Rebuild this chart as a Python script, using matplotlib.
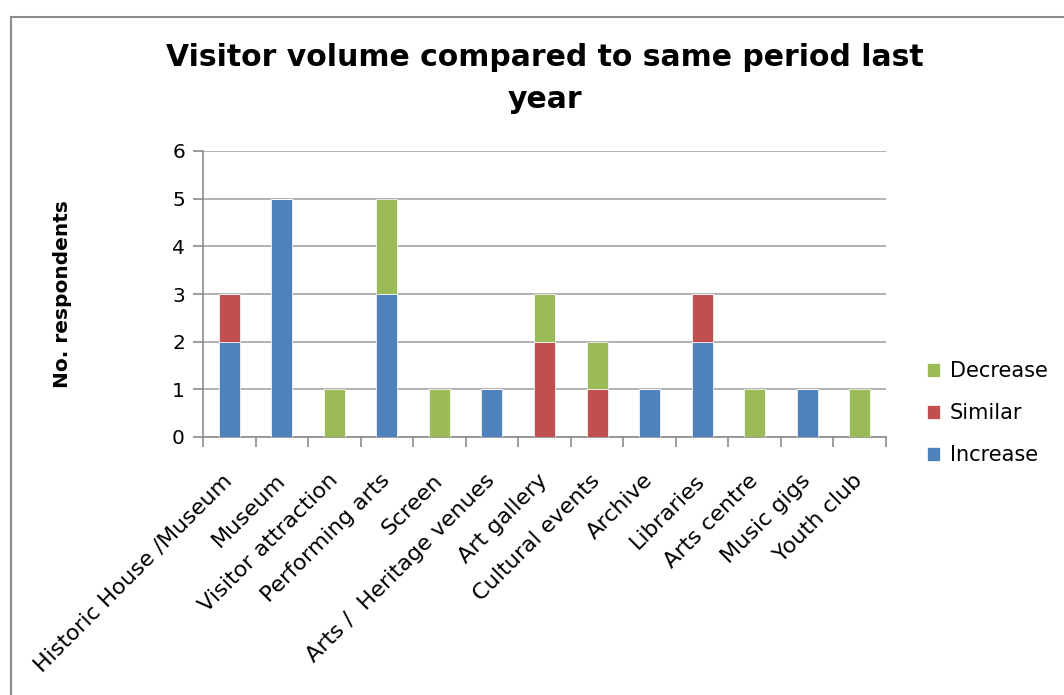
import matplotlib
matplotlib.use("Agg")
import matplotlib.pyplot as plt
import numpy as np
from matplotlib.lines import Line2D

categories = ["Historic House /Museum", "Museum", "Visitor attraction", "Performing arts",
              "Screen", "Arts /  Heritage venues", "Art gallery", "Cultural events",
              "Archive", "Libraries", "Arts centre", "Music gigs", "Youth club"]
increase = [2, 5, 0, 3, 0, 1, 0, 0, 1, 2, 0, 1, 0]
similar = [1, 0, 0, 0, 0, 0, 2, 1, 0, 1, 0, 0, 0]
decrease = [0, 0, 1, 2, 1, 0, 1, 1, 0, 0, 1, 0, 1]

c_inc, c_sim, c_dec = "#4F81BD", "#C0504D", "#9BBB59"

plt.rcParams['font.family'] = ['DejaVu Sans']
fig = plt.figure(figsize=(10.64, 6.95), dpi=100)
ax = fig.add_axes([203/1064, 1-437/695, 683/1064, 286/695])

x = np.arange(len(categories))
inc = np.array(increase); sim = np.array(similar); dec = np.array(decrease)
w = 0.4
ax.bar(x, inc, w, color=c_inc, label="Increase", zorder=3, edgecolor="white", linewidth=0.5)
ax.bar(x, sim, w, bottom=inc, color=c_sim, label="Similar", zorder=3, edgecolor="white", linewidth=0.5)
ax.bar(x, dec, w, bottom=inc+sim, color=c_dec, label="Decrease", zorder=3, edgecolor="white", linewidth=0.5)

ax.set_xlim(-0.5, len(categories)-0.5)
ax.set_ylim(0, 6)
ax.set_yticks(range(0, 7))
ax.yaxis.grid(True, color="#a6a6a6", linewidth=1.2, zorder=0)
ax.set_axisbelow(True)
for s in ["top", "right"]:
    ax.spines[s].set_visible(False)
ax.spines["left"].set_color("#8c8c8c")
ax.spines["bottom"].set_color("#8c8c8c")
ax.spines["left"].set_linewidth(1.2)
ax.spines["bottom"].set_linewidth(1.2)
ax.tick_params(axis="y", length=7, color="#8c8c8c", width=1.2, labelsize=14.5, pad=6)
ax.set_xticks(x)
ax.set_xticklabels(categories, rotation=45, ha="right", va="center", rotation_mode="anchor", fontsize=16)
ax.tick_params(axis="x", length=0, pad=29)
ax.set_xticks(np.arange(len(categories)+1)-0.5, minor=True)
ax.tick_params(axis="x", which="minor", length=7, color="#8c8c8c", width=1.2)

fig.text(62/1064, 1-294/695, "No. respondents", rotation=90, ha="center", va="center",
         fontsize=14.5, fontweight="bold")

fig.text(545/1064, 1-58/695, "Visitor volume compared to same period last", ha="center", va="center",
         fontsize=21.5, fontweight="bold")
fig.text(545/1064, 1-100/695, "year", ha="center", va="center", fontsize=21.5, fontweight="bold")

h, l = ax.get_legend_handles_labels()
leg = fig.legend(h[::-1], l[::-1], loc="center left", bbox_to_anchor=(908/1064, 1-413/695),
                 frameon=False, fontsize=15, handlelength=0.65, handleheight=0.65,
                 labelspacing=1.05, handletextpad=0.45)

# chart border (left and top visible)
fig.add_artist(Line2D([11/1064, 11/1064], [0, 1-17/695], transform=fig.transFigure, color="#8c8c8c", linewidth=1.5))
fig.add_artist(Line2D([11/1064, 1], [1-17/695, 1-17/695], transform=fig.transFigure, color="#8c8c8c", linewidth=1.5))

fig.savefig("out.png", dpi=100)
